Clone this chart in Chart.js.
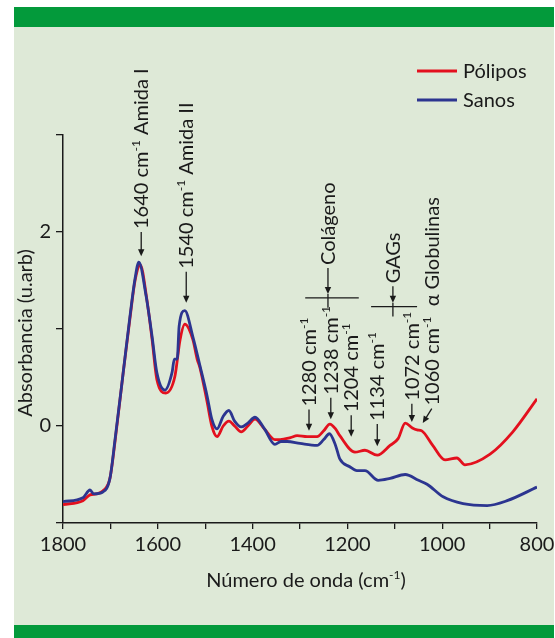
<!DOCTYPE html>
<html>
<head>
<meta charset="utf-8">
<script src="https://cdn.jsdelivr.net/npm/chart.js@4.4.0/dist/chart.umd.min.js"></script>
<style>
  html, body { margin: 0; padding: 0; background: #fff; }
  #wrap { position: relative; width: 555px; height: 638px; overflow: hidden; }
  #panel { position: absolute; left: 14px; top: 7px; width: 540px; height: 631px; background: #dee9d7; }
  #barTop { position: absolute; left: 14px; top: 7px; width: 540px; height: 20px; background: #039a3b; }
  #barBottom { position: absolute; left: 14px; top: 625px; width: 540px; height: 13px; background: #039a3b; }
  canvas { position: absolute; left: 0; top: 0; }
</style>
</head>
<body>
<div id="wrap">
  <div id="panel"></div>
  <div id="barTop"></div>
  <div id="barBottom"></div>
  <canvas id="chart" width="555" height="638"></canvas>
</div>
<script>
// Espectros FTIR: número de onda (cm-1) y absorbancia (u.arb)
const polyposWave = [1800, 1758, 1743, 1730, 1716, 1701, 1690, 1673, 1659, 1648, 1637, 1623, 1612, 1602, 1583,
  1564, 1553, 1543, 1526, 1517, 1511, 1496, 1486, 1475, 1462, 1450, 1438, 1424, 1410, 1395, 1375, 1353, 1342,
  1320, 1306, 1285, 1264, 1250, 1237, 1225, 1216, 1184, 1163, 1137, 1110, 1093, 1078, 1063, 1053, 1043, 1020,
  994, 969, 952, 899, 851, 800];
const polyposAbs = [-0.81, -0.77, -0.71, -0.70, -0.67, -0.54, -0.15, 0.55, 1.10, 1.50, 1.66, 1.30, 0.89, 0.48, 0.34,
  0.51, 0.89, 1.05, 0.89, 0.69, 0.60, 0.25, 0.00, -0.11, 0.00, 0.05, 0.00, -0.06, 0.00, 0.07, -0.03, -0.14, -0.14,
  -0.12, -0.10, -0.11, -0.11, -0.05, 0.02, -0.03, -0.10, -0.27, -0.25, -0.30, -0.20, -0.13, 0.03, -0.02, -0.04, -0.05, -0.20,
  -0.35, -0.33, -0.40, -0.29, -0.06, 0.28];

const sanosWave = [1800, 1758, 1743, 1735, 1716, 1701, 1690, 1673, 1659, 1648, 1640, 1625, 1612, 1602, 1585,
  1570, 1565, 1559, 1555, 1543, 1526, 1511, 1496, 1486, 1475, 1462, 1450, 1438, 1424, 1410, 1395, 1375, 1353,
  1340, 1327, 1300, 1264, 1250, 1238, 1225, 1216, 1195, 1180, 1163, 1135, 1110, 1078, 1050, 1032, 998, 956,
  905, 863, 800];
const sanosAbs = [-0.78, -0.74, -0.66, -0.70, -0.68, -0.54, -0.13, 0.55, 1.12, 1.52, 1.69, 1.35, 0.92, 0.55, 0.37,
  0.55, 0.69, 0.69, 1.03, 1.19, 0.92, 0.62, 0.31, 0.07, -0.03, 0.10, 0.16, 0.05, -0.01, 0.03, 0.09, -0.03, -0.19,
  -0.16, -0.16, -0.18, -0.20, -0.14, -0.08, -0.20, -0.34, -0.42, -0.46, -0.46, -0.56, -0.54, -0.50, -0.56, -0.60, -0.73, -0.80,
  -0.82, -0.77, -0.63];

const xTickLabels = [1800, 1600, 1400, 1200, 1000, 800];
const yTickLabels = [0, 2];

// Anotaciones de bandas (en coordenadas de datos)
const peakNotes = [
  { text: '1640 cm^{-1} Amida I', wave: 1635, tail: 2.00, head: 1.75 },
  { text: '1540 cm^{-1} Amida II', wave: 1540, tail: 1.59, head: 1.27 },
  { text: '1280 cm^{-1}', wave: 1281, tail: 0.17, head: -0.05 },
  { text: '1238 cm^{-1}', wave: 1235, tail: 0.29, head: 0.07 },
  { text: '1204 cm^{-1}', wave: 1192, tail: 0.11, head: -0.11 },
  { text: '1134 cm^{-1}', wave: 1137, tail: 0.02, head: -0.21 },
  { text: '1072 cm^{-1}', wave: 1064, tail: 0.23, head: 0.04 },
  { text: '1060 cm^{-1}  α Globulinas', wave: 1022, tail: 0.18, head: 0.03, headWave: 1041 }
];
const groupNotes = [
  { text: 'Colágeno', wave: 1241, from: 1289, to: 1176, bar: 1.32, stemTop: 1.36, stemBottom: 1.22, tail: 1.63 },
  { text: 'GAGs', wave: 1104, from: 1150, to: 1053, bar: 1.23, stemTop: 1.27, stemBottom: 1.13, tail: 1.44 }
];

const FONT = 'Lato, "Open Sans", sans-serif';
const SIZE = 20;
const INK = '#1a1a1a';

function toPoints(xs, ys) {
  return xs.map((x, i) => ({ x: x, y: ys[i] }));
}

// texto con superíndices del tipo ^{-1}
function parseParts(text) {
  const parts = [];
  const re = /\^\{([^}]*)\}/g;
  let last = 0, m;
  while ((m = re.exec(text)) !== null) {
    if (m.index > last) parts.push({ t: text.slice(last, m.index), sup: false });
    parts.push({ t: m[1], sup: true });
    last = re.lastIndex;
  }
  if (last < text.length) parts.push({ t: text.slice(last), sup: false });
  return parts;
}

function partsWidth(ctx, parts, size) {
  let w = 0;
  parts.forEach(p => {
    ctx.font = (p.sup ? Math.round(size * 0.6) : size) + 'px ' + FONT;
    w += ctx.measureText(p.t).width;
  });
  return w;
}

function drawParts(ctx, parts, size, x0, y0) {
  let x = x0;
  ctx.textAlign = 'left';
  ctx.textBaseline = 'alphabetic';
  parts.forEach(p => {
    ctx.font = (p.sup ? Math.round(size * 0.6) : size) + 'px ' + FONT;
    ctx.fillText(p.t, x, p.sup ? y0 - size * 0.42 : y0);
    x += ctx.measureText(p.t).width;
  });
}

// texto vertical que se lee de abajo hacia arriba
function drawVertical(ctx, text, cx, yStart, size) {
  ctx.save();
  ctx.translate(cx + size * 0.36, yStart);
  ctx.rotate(-Math.PI / 2);
  drawParts(ctx, parseParts(text), size, 0, 0);
  ctx.restore();
}

function drawArrow(ctx, x1, y1, x2, y2) {
  const a = Math.atan2(y2 - y1, x2 - x1), L = 7, W = 3.2;
  ctx.beginPath();
  ctx.moveTo(x1, y1);
  ctx.lineTo(x2 - Math.cos(a) * L * 0.7, y2 - Math.sin(a) * L * 0.7);
  ctx.stroke();
  ctx.beginPath();
  ctx.moveTo(x2, y2);
  ctx.lineTo(x2 - L * Math.cos(a) + W * Math.sin(a), y2 - L * Math.sin(a) - W * Math.cos(a));
  ctx.lineTo(x2 - L * Math.cos(a) - W * Math.sin(a), y2 - L * Math.sin(a) + W * Math.cos(a));
  ctx.closePath();
  ctx.fill();
}

const decorPlugin = {
  id: 'decor',
  afterDraw(chart) {
    const ctx = chart.ctx;
    const xs = chart.scales.x, ys = chart.scales.y;
    const area = chart.chartArea;
    ctx.save();
    ctx.fillStyle = INK;
    ctx.strokeStyle = INK;
    ctx.lineWidth = 1.3;

    // bandas individuales
    peakNotes.forEach(n => {
      const cx = xs.getPixelForValue(n.wave);
      const yt = ys.getPixelForValue(n.tail);
      const hx = xs.getPixelForValue(n.headWave !== undefined ? n.headWave : n.wave);
      const hy = ys.getPixelForValue(n.head);
      drawArrow(ctx, cx, yt, hx, hy);
      drawVertical(ctx, n.text, cx, yt - 3, SIZE);
    });

    // grupos con corchete
    groupNotes.forEach(g => {
      const cx = xs.getPixelForValue(g.wave);
      const by = ys.getPixelForValue(g.bar);
      ctx.beginPath();
      ctx.moveTo(xs.getPixelForValue(g.from), by);
      ctx.lineTo(xs.getPixelForValue(g.to), by);
      ctx.moveTo(cx, ys.getPixelForValue(g.stemTop));
      ctx.lineTo(cx, ys.getPixelForValue(g.stemBottom));
      ctx.stroke();
      const yt = ys.getPixelForValue(g.tail);
      drawArrow(ctx, cx, yt, cx, ys.getPixelForValue(g.stemTop));
      drawVertical(ctx, g.text, cx, yt - 3, SIZE);
    });

    // título eje Y
    ctx.save();
    ctx.translate(area.left - 31, (area.top + area.bottom) / 2 + 4);
    ctx.rotate(-Math.PI / 2);
    ctx.font = SIZE + 'px ' + FONT;
    ctx.textAlign = 'center';
    ctx.textBaseline = 'alphabetic';
    ctx.fillText('Absorbancia (u.arb)', 0, 0);
    ctx.restore();

    // título eje X
    const xParts = parseParts('Número de onda (cm^{-1})');
    const w = partsWidth(ctx, xParts, SIZE);
    drawParts(ctx, xParts, SIZE, (area.left + area.right) / 2 + 6 - w / 2, area.bottom + 64);

    // leyenda
    const legendItems = [chart.data.datasets[1], chart.data.datasets[0]];
    legendItems.forEach((ds, i) => {
      const y = 71 + i * 29;
      ctx.strokeStyle = ds.borderColor;
      ctx.lineWidth = 3;
      ctx.beginPath();
      ctx.moveTo(417, y);
      ctx.lineTo(457, y);
      ctx.stroke();
      ctx.fillStyle = INK;
      ctx.font = SIZE + 'px ' + FONT;
      ctx.textAlign = 'left';
      ctx.textBaseline = 'middle';
      ctx.fillText(ds.label, 463, y + 1);
    });
    ctx.restore();
  }
};

const ctx = document.getElementById('chart').getContext('2d');
new Chart(ctx, {
  type: 'line',
  data: {
    datasets: [
      {
        label: 'Sanos',
        data: toPoints(sanosWave, sanosAbs),
        borderColor: '#2c3590',
        borderWidth: 2.8,
        pointRadius: 0,
        fill: false,
        cubicInterpolationMode: 'monotone'
      },
      {
        label: 'Pólipos',
        data: toPoints(polyposWave, polyposAbs),
        borderColor: '#e3101e',
        borderWidth: 2.8,
        pointRadius: 0,
        fill: false,
        cubicInterpolationMode: 'monotone'
      }
    ]
  },
  options: {
    responsive: false,
    animation: false,
    devicePixelRatio: 1,
    layout: { padding: { left: 0, top: 135, right: 18, bottom: 70 } },
    plugins: {
      legend: { display: false },
      tooltip: { enabled: false }
    },
    scales: {
      x: {
        type: 'linear',
        min: 800,
        max: 1800,
        reverse: true,
        afterFit: function(scale) {
          scale.height = 45;
          scale.paddingLeft = 0;
          scale.paddingRight = 0;
        },
        border: { display: true, color: INK, width: 1.5 },
        grid: { display: true, drawOnChartArea: false, drawTicks: true, tickLength: 6, color: INK, lineWidth: 1.3 },
        ticks: {
          stepSize: 100,
          autoSkip: false,
          maxRotation: 0,
          padding: 4,
          color: INK,
          font: { family: FONT, size: SIZE },
          callback: function(value) {
            return xTickLabels.includes(value) ? String(value) : '';
          }
        }
      },
      y: {
        min: -1,
        max: 3,
        afterFit: function(scale) { scale.width = 63; },
        border: { display: true, color: INK, width: 1.5 },
        grid: { display: true, drawOnChartArea: false, drawTicks: true, tickLength: 7, color: INK, lineWidth: 1.3 },
        ticks: {
          stepSize: 1,
          autoSkip: false,
          padding: 5,
          color: INK,
          font: { family: FONT, size: SIZE },
          callback: function(value) {
            return yTickLabels.includes(value) ? String(value) : '';
          }
        }
      }
    }
  },
  plugins: [decorPlugin]
});
</script>
</body>
</html>
